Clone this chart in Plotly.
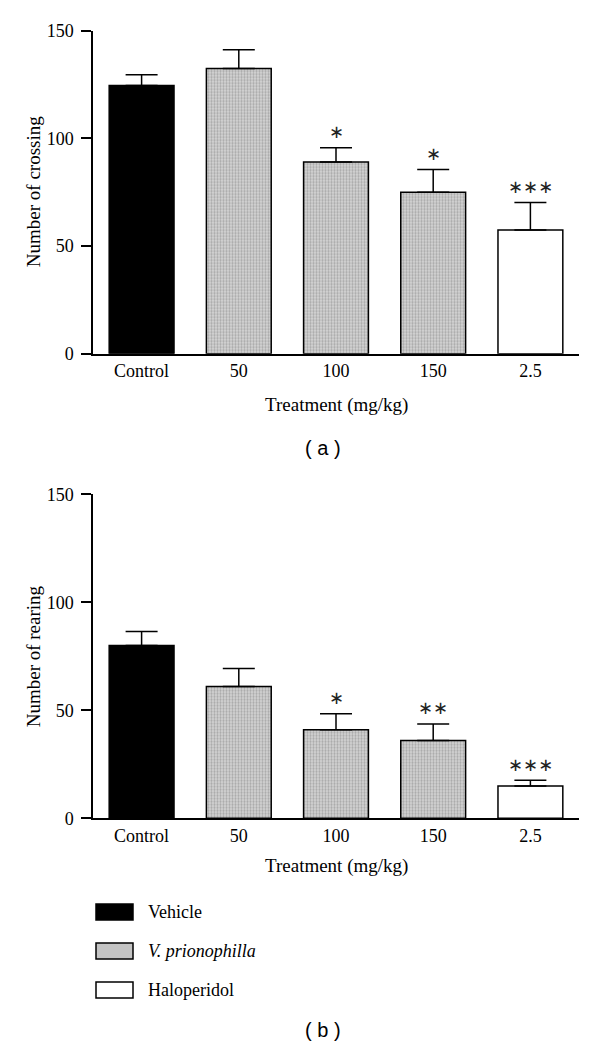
import plotly.graph_objects as go

categories = ["Control", "50", "100", "150", "2.5"]
groups = ["Vehicle", "V. prionophilla", "V. prionophilla", "V. prionophilla", "Haloperidol"]

crossing_mean = [124.5, 132.5, 89, 75, 57.5]
crossing_sem = [5, 8.7, 6.6, 10.5, 12.7]
crossing_sig = ["", "", "*", "*", "***"]

rearing_mean = [80, 61, 41, 36, 15]
rearing_sem = [6.5, 8.3, 7.4, 7.7, 2.6]
rearing_sig = ["", "", "*", "**", "***"]

legend_labels = ["Vehicle", "<i>V. prionophilla</i>", "Haloperidol"]

SERIF = "Liberation Serif"

# page body has an 8px margin; figure sized so the page is exactly 600x1053
OFF = 8
W, H = 600 - 2 * OFF, 1053 - 2 * OFF
x0px, x1px = 93, 579
panels = [
    dict(top=30.7, bottom=353.7, mean=crossing_mean, sem=crossing_sem, sig=crossing_sig,
         ytitle="Number of crossing", label="( a )", label_y=448, xtitle_y=405),
    dict(top=494.3, bottom=818.3, mean=rearing_mean, sem=rearing_sem, sig=rearing_sig,
         ytitle="Number of rearing", label="( b )", label_y=1030, xtitle_y=866),
]

def py(p):
    return 1 - (p - OFF) / H

def px(p):
    return (p - OFF) / W

styles = {
    "Vehicle": dict(color="black", pattern=None),
    "V. prionophilla": dict(color="#d6d6d6",
                            pattern=dict(shape=".", fgcolor="#7a7a7a", bgcolor="#d6d6d6",
                                         size=3, solidity=0.45)),
    "Haloperidol": dict(color="white", pattern=None),
}

fig = go.Figure()
annotations = []
shapes = []

for i, p in enumerate(panels):
    xa = "x" if i == 0 else "x2"
    ya = "y" if i == 0 else "y2"
    for g in ["Vehicle", "V. prionophilla", "Haloperidol"]:
        idx = [k for k, gg in enumerate(groups) if gg == g]
        st = styles[g]
        marker = dict(color=st["color"], line=dict(color="black", width=1.5))
        if st["pattern"]:
            marker["pattern"] = st["pattern"]
        fig.add_trace(go.Bar(
            x=[categories[k] for k in idx],
            y=[p["mean"][k] for k in idx],
            error_y=dict(type="data", symmetric=False,
                         array=[p["sem"][k] for k in idx],
                         arrayminus=[0 for k in idx],
                         color="black", thickness=1.5, width=16),
            marker=marker, width=0.667, showlegend=False,
            xaxis=xa, yaxis=ya, name=g,
        ))
    for k, s in enumerate(p["sig"]):
        if s:
            annotations.append(dict(
                x=k, y=p["mean"][k] + p["sem"][k], xref=xa, yref=ya,
                text="∗" * len(s), showarrow=False, xanchor="center", yanchor="middle",
                yshift=16, font=dict(family="DejaVu Sans", size=18, color="#222"),
            ))
    annotations.append(dict(
        x=px(33), y=py((p["top"] + p["bottom"]) / 2), xref="paper", yref="paper",
        text=p["ytitle"], textangle=-90, showarrow=False,
        xanchor="center", yanchor="middle",
        font=dict(family=SERIF, size=19, color="black"),
    ))
    annotations.append(dict(
        x=px((x0px + x1px) / 2), y=py(p["xtitle_y"]), xref="paper", yref="paper",
        text="Treatment (mg/kg)", showarrow=False, xanchor="center", yanchor="middle",
        font=dict(family=SERIF, size=19, color="black"),
    ))
    annotations.append(dict(
        x=px(323), y=py(p["label_y"]), xref="paper", yref="paper",
        text=p["label"], showarrow=False, xanchor="center", yanchor="middle",
        font=dict(family="Liberation Sans", size=20, color="black"),
    ))

axis_common = dict(showline=True, linecolor="black", linewidth=1.5, showgrid=False,
                   zeroline=False, automargin=False,
                   tickfont=dict(family=SERIF, size=18, color="black"))

for i, p in enumerate(panels):
    xkey = "xaxis" if i == 0 else "xaxis2"
    ykey = "yaxis" if i == 0 else "yaxis2"
    anchor_y = "y" if i == 0 else "y2"
    anchor_x = "x" if i == 0 else "x2"
    fig.update_layout({
        xkey: dict(domain=[px(x0px), px(x1px)], anchor=anchor_y, range=[-0.5, 4.5],
                   type="category", categoryorder="array", categoryarray=categories,
                   ticks="", ticklen=0, **axis_common),
        ykey: dict(domain=[py(p["bottom"]), py(p["top"])], anchor=anchor_x, range=[0, 150],
                   tickvals=[0, 50, 100, 150], ticks="outside", ticklen=10, tickwidth=1.5,
                   tickcolor="black", ticklabelstandoff=4, **axis_common),
    })

# custom legend
leg_rows = [912, 951, 990]
leg_styles = ["Vehicle", "V. prionophilla", "Haloperidol"]
for r, (yc, g, lab) in enumerate(zip(leg_rows, leg_styles, legend_labels)):
    st = styles[g]
    fill = st["color"] if g != "V. prionophilla" else "#c4c4c4"
    shapes.append(dict(type="rect", xref="paper", yref="paper",
                       x0=px(96), x1=px(133), y0=py(yc + 8), y1=py(yc - 8),
                       fillcolor=fill, line=dict(color="black", width=1.5)))
    annotations.append(dict(x=px(146), y=py(yc), xref="paper", yref="paper",
                            text=lab, showarrow=False, xanchor="left", yanchor="middle",
                            font=dict(family=SERIF, size=18, color="black")))

fig.update_layout(
    width=W, height=H, margin=dict(l=0, r=0, t=0, b=0, autoexpand=False),
    paper_bgcolor="white", plot_bgcolor="white",
    barmode="overlay", showlegend=False,
    annotations=annotations, shapes=shapes,
)

fig.write_html("out.html")
